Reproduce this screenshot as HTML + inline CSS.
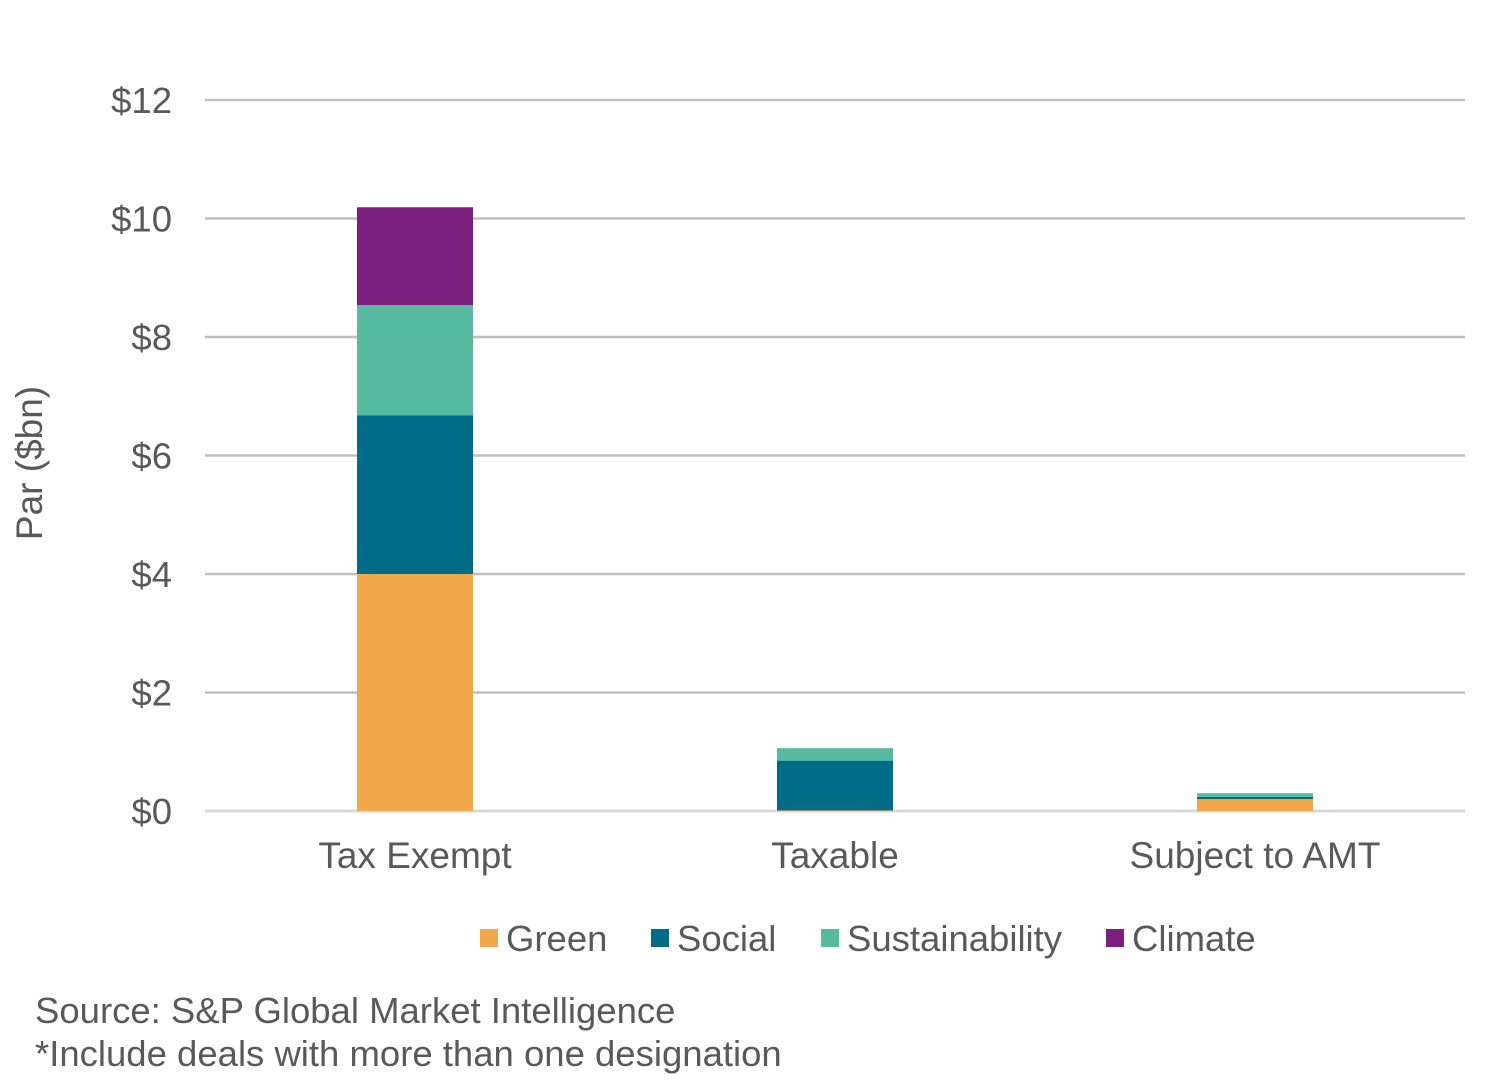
<!DOCTYPE html>
<html><head><meta charset="utf-8"><style>
body{margin:0;background:#fff;font-family:"Liberation Sans",Arial,sans-serif;}
svg text{font-family:"Liberation Sans",Arial,sans-serif;fill:#595959;}
</style></head><body>
<svg width="1491" height="1079">
<g id="grid"></g><g id="bars"></g><g id="xl"></g>
<text x="42" y="463" font-size="37" transform="rotate(-90 42 463)" text-anchor="middle">Par ($bn)</text>
<g id="legend"></g>
<text x="35" y="1023" font-size="36.5">Source: S&amp;P Global Market Intelligence</text>
<text x="35" y="1066" font-size="36.5">*Include deals with more than one designation</text>
</svg>
<script>
const categories=["Tax Exempt","Taxable","Subject to AMT"];
const seriesNames=["Green","Social","Sustainability","Climate"];
const green=[4.0,0.01,0.2];
const social=[2.68,0.84,0.04];
const sustainability=[1.86,0.21,0.06];
const climate=[1.65,0,0];
const yTicks=[0,2,4,6,8,10,12];
const tickLabels=["$0","$2","$4","$6","$8","$10","$12"];
const colors=["#F0A84B","#006C87","#55BAA0","#7A1F7D"];
const series=[green,social,sustainability,climate];
const NS="http://www.w3.org/2000/svg";
const x0=205,x1=1465,yb=811,yt=100,ymax=12;
const y=v=>yb-(v/ymax)*(yb-yt);
const band=(x1-x0)/categories.length;
const cx=i=>x0+band*(i+0.5);
function mk(t,a,p){const e=document.createElementNS(NS,t);for(const k in a)e.setAttribute(k,a[k]);p.appendChild(e);return e;}
const grid=document.getElementById('grid');
yTicks.forEach((t,i)=>{
 const l=mk('line',{x1:x0,x2:x1,y1:y(t),y2:y(t),stroke:i===0?'#d9d9d9':'#bfbfbf','stroke-width':i===0?3:2.5},grid);
 
 
 const tx=mk('text',{x:172,y:y(t)+13,'font-size':36.5,'text-anchor':'end'},grid);tx.textContent=tickLabels[i];
 
 
});
const bars=document.getElementById('bars');const bw=116;
categories.forEach((c,i)=>{
 let acc=0;
 series.forEach((s,j)=>{
  const v=s[i];if(v<=0)return;
  const r=mk('rect',{x:cx(i)-bw/2,y:y(acc+v),width:bw,height:y(acc)-y(acc+v),fill:colors[j]},bars);
  
  
  acc+=v;
 });
 const t=mk('text',{x:cx(i),y:868,'font-size':37,'text-anchor':'middle'},document.getElementById('xl'));t.textContent=c;
 
 
});
const lg=document.getElementById('legend');const lx=[480,651,821,1106];
seriesNames.forEach((n,j)=>{
 const g=mk('g',{},lg);
 
 
 mk('rect',{x:lx[j],y:929,width:18,height:18,fill:colors[j]},g);
 const t=mk('text',{x:lx[j]+26,y:951,'font-size':36.5},g);t.textContent=n;
});
</script>
</body></html>
